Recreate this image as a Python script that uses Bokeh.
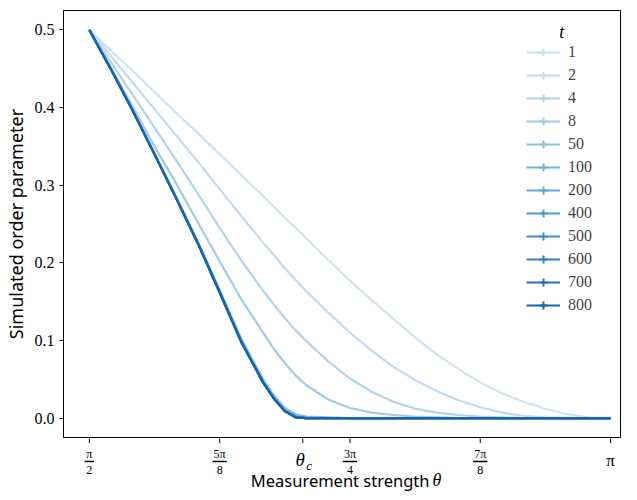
import numpy as np
from bokeh.plotting import figure
from bokeh.layouts import column
from bokeh.models import (Range1d, FixedTicker, Legend, LegendItem, Label,
                          PrintfTickFormatter)
from bokeh.core.properties import value
from bokeh.embed import file_html
from bokeh.resources import INLINE

# ---------------- data ----------------
theta = [1.5708, 1.6362, 1.7017, 1.7671, 1.8326, 1.8980, 1.9635, 2.0289, 2.0944,
         2.1271, 2.1598, 2.1925, 2.2253, 2.2907, 2.3562, 2.4216, 2.4871, 2.5525,
         2.6180, 2.6834, 2.7489, 2.8143, 2.8798, 2.9452, 3.0107, 3.0761, 3.1416]

t_labels = ["1", "2", "4", "8", "50", "100", "200", "400", "500", "600", "700", "800"]

op_t1 = [0.500, 0.473, 0.447, 0.420, 0.393, 0.367, 0.340, 0.313, 0.286, 0.272, 0.258, 0.245,
         0.231, 0.204, 0.177, 0.152, 0.128, 0.104, 0.082, 0.063, 0.046, 0.032, 0.021, 0.012,
         0.005, 0.001, 0.000]
op_t2 = [0.500, 0.466, 0.432, 0.398, 0.364, 0.330, 0.295, 0.260, 0.226, 0.210, 0.193, 0.178,
         0.163, 0.136, 0.110, 0.087, 0.066, 0.049, 0.035, 0.023, 0.014, 0.007, 0.003, 0.001,
         0.000, 0.000, 0.000]
op_t4 = [0.500, 0.458, 0.416, 0.374, 0.332, 0.289, 0.245, 0.203, 0.164, 0.146, 0.129, 0.113,
         0.099, 0.073, 0.051, 0.034, 0.021, 0.012, 0.007, 0.004, 0.002, 0.001, 0.000, 0.000,
         0.000, 0.000, 0.000]
op_t8 = [0.500, 0.451, 0.401, 0.350, 0.302, 0.252, 0.202, 0.153, 0.110, 0.089, 0.071, 0.055,
         0.042, 0.024, 0.013, 0.007, 0.004, 0.002, 0.001, 0.000, 0.000, 0.000, 0.000, 0.000,
         0.000, 0.000, 0.000]
op_t50 = [0.500, 0.450, 0.397, 0.341, 0.285, 0.227, 0.165, 0.102, 0.050, 0.029, 0.013, 0.005,
          0.002, 0.001, 0.000, 0.000, 0.000, 0.000, 0.000, 0.000, 0.000, 0.000, 0.000, 0.000,
          0.000, 0.000, 0.000]
op_t100 = [0.500, 0.449, 0.396, 0.340, 0.284, 0.226, 0.163, 0.099, 0.047, 0.027, 0.011, 0.003,
           0.001, 0.000, 0.000, 0.000, 0.000, 0.000, 0.000, 0.000, 0.000, 0.000, 0.000, 0.000,
           0.000, 0.000, 0.000]
op_t200 = [0.500, 0.449, 0.396, 0.340, 0.283, 0.225, 0.162, 0.098, 0.046, 0.026, 0.010, 0.002,
           0.000, 0.000, 0.000, 0.000, 0.000, 0.000, 0.000, 0.000, 0.000, 0.000, 0.000, 0.000,
           0.000, 0.000, 0.000]
op_t400 = [0.500, 0.449, 0.396, 0.340, 0.283, 0.225, 0.162, 0.098, 0.046, 0.025, 0.009, 0.001,
           0.000, 0.000, 0.000, 0.000, 0.000, 0.000, 0.000, 0.000, 0.000, 0.000, 0.000, 0.000,
           0.000, 0.000, 0.000]
op_t500 = list(op_t400)
op_t600 = list(op_t400)
op_t700 = list(op_t400)
op_t800 = [0.500, 0.449, 0.396, 0.340, 0.283, 0.225, 0.162, 0.098, 0.046, 0.025, 0.009, 0.001,
           0.000, 0.000, 0.000, 0.000, 0.000, 0.000, 0.000, 0.000, 0.000, 0.000, 0.000, 0.000,
           0.000, 0.000, 0.000]

series = [op_t1, op_t2, op_t4, op_t8, op_t50, op_t100, op_t200, op_t400,
          op_t500, op_t600, op_t700, op_t800]

colors = ["#d0e1f2", "#c4daee", "#b3d3e8", "#a2cbe2", "#8cc0dd", "#76b4d8",
          "#62a8d2", "#509ccb", "#3f8fc4", "#3181bd", "#2272b6", "#1764ab"]

theta_c = 2.214
x_tick_values = [np.pi / 2, 5 * np.pi / 8, theta_c, 3 * np.pi / 4, 7 * np.pi / 8, np.pi]
frac_x = [np.pi / 2, 5 * np.pi / 8, 3 * np.pi / 4, 7 * np.pi / 8]
frac_num = ["π", "5π", "3π", "7π"]
frac_den = ["2", "8", "4", "8"]
frac_halfwidth = [0.0140, 0.0215, 0.0215, 0.0215]
y_tick_values = [0.0, 0.1, 0.2, 0.3, 0.4, 0.5]

SERIF = "Liberation Serif"
SANS = "Noto Sans"

LEFT = 60
X0 = 1.4929
X1 = X0 + (621 - LEFT) / 333.6

# ---------------- main figure ----------------
p = figure(width=621, height=438,
           x_range=Range1d(X0, X1), y_range=Range1d(-0.025, 0.525),
           output_backend="svg", toolbar_location=None,
           x_axis_location=None,
           min_border_left=LEFT, min_border_right=0, min_border_top=10,
           min_border_bottom=1)
p.grid.visible = False
p.outline_line_color = "black"
p.outline_line_alpha = 1.0
p.outline_line_width = 1
p.background_fill_color = "white"

p.yaxis.ticker = FixedTicker(ticks=y_tick_values)
p.yaxis.formatter = PrintfTickFormatter(format="%.1f")
p.yaxis.major_label_text_font = SERIF
p.yaxis.major_label_text_font_size = "16px"
p.yaxis.major_label_standoff = 5
p.yaxis.axis_label = "Simulated order parameter"
p.yaxis.axis_label_text_font = SANS
p.yaxis.axis_label_text_font_size = "18px"
p.yaxis.axis_label_text_font_style = "normal"
p.yaxis.axis_label_standoff = 4
p.yaxis.major_tick_out = 4
p.yaxis.major_tick_in = 0
p.yaxis.minor_tick_out = 0
p.yaxis.minor_tick_in = 0
p.yaxis.axis_line_color = "black"
p.yaxis.major_tick_line_color = "black"
p.yaxis.major_label_text_color = "black"
p.yaxis.axis_label_text_color = "black"

items = []
for lab, ys, col in zip(t_labels, series, colors):
    r = p.line(theta, ys, line_color=col, line_width=2.2)
    m = p.scatter([theta[0]], [10.0], marker="cross", size=10,
                  line_color=col, line_width=2)
    items.append(LegendItem(label=lab, renderers=[r, m]))

legend = Legend(items=items, location=(463, 122),
                glyph_width=34, glyph_height=20, label_height=20,
                spacing=3, padding=0, margin=0, label_standoff=8,
                border_line_alpha=0, background_fill_alpha=0,
                label_text_font=SERIF, label_text_font_size="16px",
                label_text_baseline="middle")
p.add_layout(legend)


def px_to_theta(px):
    return 1.5708 + (px - 91) / 333.6


p.add_layout(Label(x=px_to_theta(566), y=(418 - 31) / 778.0, text="t",
                   text_font=SERIF, text_font_style="italic",
                   text_font_size="18px", text_align="center",
                   text_baseline="middle", text_color="black"))

# ---------------- strip below: x ticks, tick labels and x title ----------------
# y of this strip is in pixels measured downward from its top edge
p2 = figure(width=621, height=54, x_range=p.x_range, y_range=Range1d(54, 0),
            output_backend="svg", toolbar_location=None,
            x_axis_location=None, y_axis_location=None,
            min_border_left=LEFT, min_border_right=0, min_border_top=0,
            min_border_bottom=0)
p2.grid.visible = False
p2.outline_line_color = None
p2.background_fill_color = "white"

# tick marks
p2.segment(x0=x_tick_values, y0=[-1] * len(x_tick_values),
           x1=x_tick_values, y1=[4.5] * len(x_tick_values),
           line_color="black", line_width=1)

# stacked fractions
p2.text(x=frac_x, y=[15] * 4, text=frac_num, text_font=value(SERIF),
        text_font_size="12px", text_align="center", text_baseline="middle",
        text_color="black")
p2.text(x=frac_x, y=[31] * 4, text=frac_den, text_font=value(SERIF),
        text_font_size="12px", text_align="center", text_baseline="middle",
        text_color="black")
p2.segment(x0=[a - h for a, h in zip(frac_x, frac_halfwidth)], y0=[23] * 4,
           x1=[a + h for a, h in zip(frac_x, frac_halfwidth)], y1=[23] * 4,
           line_color="black", line_width=1.4)

# pi and theta_c
p2.text(x=[np.pi], y=[22], text=["π"], text_font=value(SERIF),
        text_font_size="17px", text_align="center", text_baseline="middle",
        text_color="black")
p2.text(x=[px_to_theta(303)], y=[21], text=["θ"], text_font=value(SERIF),
        text_font_style="italic", text_font_size="19px", text_align="center",
        text_baseline="middle", text_color="black")
p2.text(x=[px_to_theta(309)], y=[27], text=["c"], text_font=value(SERIF),
        text_font_style="italic", text_font_size="13px", text_align="left",
        text_baseline="middle", text_color="black")

# x axis title
p2.text(x=[px_to_theta(433)], y=[41.5], text=["Measurement strength"],
        text_font=value(SANS), text_font_size="16.5px", text_align="right",
        text_baseline="middle", text_color="black")
p2.text(x=[px_to_theta(436)], y=[41.5], text=["θ"], text_font=value(SERIF),
        text_font_style="italic", text_font_size="18px", text_align="left",
        text_baseline="middle", text_color="black")

layout = column(p, p2, spacing=0)
open("out.html", "w").write(file_html(layout, INLINE))
